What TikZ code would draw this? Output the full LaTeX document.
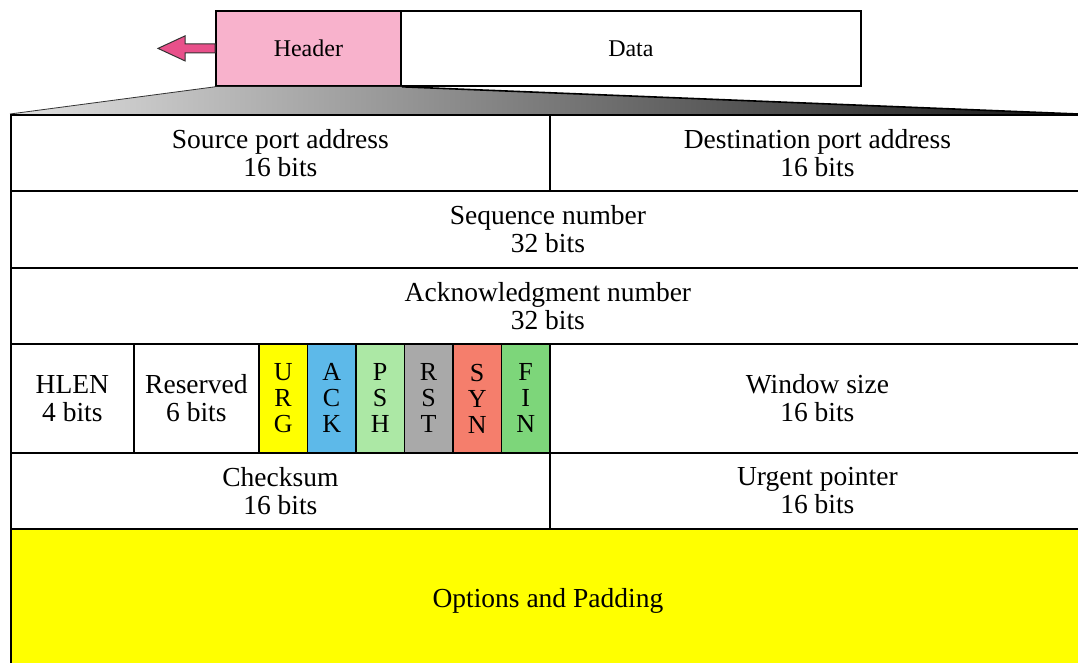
\documentclass[tikz,border=0pt]{standalone}
\usepackage{fontspec}
\setmainfont{Liberation Serif}
\usetikzlibrary{calc}
\definecolor{hdrpink}{HTML}{F8B2CC}
\definecolor{arrpink}{HTML}{E8508A}
\definecolor{urgc}{HTML}{FFFF00}
\definecolor{ackc}{HTML}{5DB9E9}
\definecolor{pshc}{HTML}{ACE8A5}
\definecolor{rstc}{HTML}{A9A9A9}
\definecolor{sync}{HTML}{F57E6C}
\definecolor{finc}{HTML}{7DD67A}
\definecolor{optc}{HTML}{FFFF00}
\begin{document}
\begin{tikzpicture}[x=1pt,y=-1pt,
  cell/.style={draw=black, line width=1.8pt, anchor=north west, inner sep=0pt,
    align=center, font=\fontsize{27.5}{28}\selectfont},
  flag/.style={cell, minimum width=48.5pt, minimum height=109pt, font=\fontsize{26}{26}\selectfont},
  toprow/.style={cell, minimum height=75pt, font=\fontsize{24}{28}\selectfont},
  arrowst/.style={draw=black!80, line width=1pt, fill=arrpink, line join=miter}]
\useasboundingbox (0,0) rectangle (1078,663);
\clip (0,0) rectangle (1078,663);
\fill[white] (0,0) rectangle (1078,663);

% packet
\node[toprow, fill=hdrpink, minimum width=185pt] (header) at (215,10) {Header};
\node[toprow, fill=white, minimum width=460pt] (data) at (400,10) {Data};

% arrow
\draw[arrowst] ($(header.west)+(0,-4.5)$) -- ++(-30,0) -- ++(0,-8) -- ++(-27,12.5)
  -- ++(27,12.5) -- ++(0,-8) -- ++(30,0) -- cycle;

% gradient fan
\coordinate (fl) at (10,114);
\coordinate (fr) at (1078,114);
\shade[left color=black!12, right color=black!92] (header.south west) -- (header.south east) -- (fr) -- (fl) -- cycle;
\draw[line width=0.8pt, black!80] (fl) -- (header.south west);
\draw[line width=1.6pt] (header.south east) -- (fr);

% row 1
\node[cell, minimum width=539pt, minimum height=76pt] (src) at (10,114) {Source port address\\16 bits};
\node[cell, minimum width=535pt, minimum height=76pt] (dst) at (549,114) {Destination port address\\16 bits};
% row 2
\node[cell, minimum width=1074pt, minimum height=77pt] (seq) at (10,190) {Sequence number\\32 bits};
% row 3
\node[cell, minimum width=1074pt, minimum height=76pt] (ack) at (10,267) {Acknowledgment number\\32 bits};
% row 4
\node[cell, minimum width=123pt, minimum height=109pt] (hlen) at (10,343) {HLEN\\4 bits};
\node[cell, minimum width=125pt, minimum height=109pt] (res) at (133,343) {Reserved\\6 bits};
\node[flag, fill=urgc] (urg) at (258,343) {U\\R\\G};
\node[flag, fill=ackc] (ackf) at (306.5,343) {A\\C\\K};
\node[flag, fill=pshc] (psh) at (355,343) {P\\S\\H};
\node[flag, fill=rstc] (rst) at (403.5,343) {R\\S\\T};
\node[flag, fill=sync] (syn) at (452,343) {S\\Y\\N};
\node[flag, fill=finc] (fin) at (500.5,343) {F\\I\\N};
\node[cell, minimum width=535pt, minimum height=109pt] (win) at (549,343) {Window size\\16 bits};
% row 5
\node[cell, minimum width=539pt, minimum height=76pt] (chk) at (10,452) {Checksum\\16 bits};
\node[cell, minimum width=535pt, minimum height=76pt] (urp) at (549,452) {Urgent pointer\\16 bits};
% row 6
\node[cell, fill=optc, minimum width=1074pt, minimum height=145pt] (opt) at (10,528) {Options and Padding};
\end{tikzpicture}
\end{document}
